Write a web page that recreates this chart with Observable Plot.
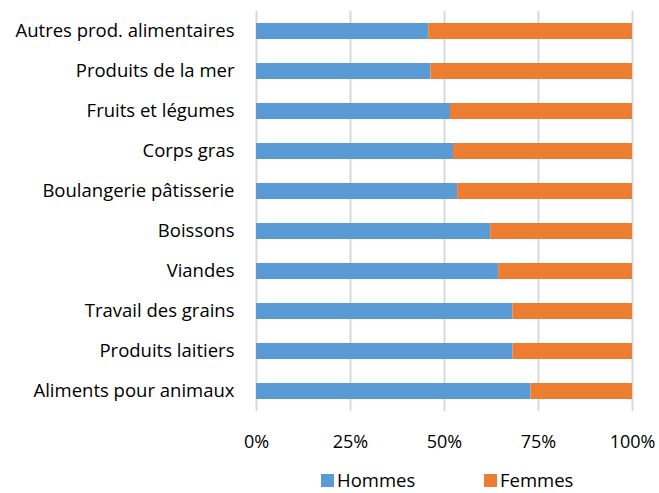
<!DOCTYPE html>
<html>
<head>
<meta charset="utf-8">
<script src="https://cdn.jsdelivr.net/npm/d3@7"></script>
<script src="https://cdn.jsdelivr.net/npm/@observablehq/plot@0.6"></script>
<style>
  html, body { margin: 0; padding: 0; background: #fff; overflow: hidden; }
  #chart { width: 659px; height: 493px; position: relative; font-family: "Open Sans", sans-serif; color: #000; }
  .legend { position: absolute; left: 0; top: 467px; width: 659px; font-size: 18.5px; line-height: normal; }
  .legend .item { position: absolute; top: 0; display: flex; align-items: center; }
  .legend .sw { width: 13px; height: 13px; margin-right: 3px; margin-top: 2px; }
</style>
</head>
<body>
<div id="chart"></div>
<script>
const categories = [
  "Autres prod. alimentaires",
  "Produits de la mer",
  "Fruits et légumes",
  "Corps gras",
  "Boulangerie pâtisserie",
  "Boissons",
  "Viandes",
  "Travail des grains",
  "Produits laitiers",
  "Aliments pour animaux"
];
const seriesNames = ["Hommes", "Femmes"];
const hommes = [45.8, 46.4, 51.6, 52.4, 53.5, 62.3, 64.4, 68.2, 68.2, 73.0];
const femmes = [54.2, 53.6, 48.4, 47.6, 46.5, 37.7, 35.6, 31.8, 31.8, 27.0];
const xTicks = [0, 25, 50, 75, 100];
const colors = ["#5B9BD5", "#ED7D31"];

const rows = [];
categories.forEach((c, i) => rows.push({cat: c, serie: "Hommes", v: hommes[i]}));
categories.forEach((c, i) => rows.push({cat: c, serie: "Femmes", v: femmes[i]}));

const chart = Plot.plot({
  width: 659,
  height: 460,
  marginTop: 11,
  marginBottom: 49,
  marginLeft: 256,
  marginRight: 27,
  style: {fontFamily: "'Open Sans', sans-serif", fontSize: "18px", color: "#000", background: "#fff", overflow: "visible"},
  x: {domain: [0, 100], ticks: xTicks, tickFormat: d => d + "%", tickSize: 0, tickPadding: 24, label: null},
  y: {domain: categories, paddingInner: 0.6, paddingOuter: 0.3, tickSize: 0, tickPadding: 22, label: null},
  color: {domain: seriesNames, range: colors},
  marks: [
    Plot.gridX(xTicks, {stroke: "#d9d9d9", strokeOpacity: 1, strokeWidth: 2}),
    Plot.barX(rows, Plot.stackX({y: "cat", x: "v", fill: "serie", order: null})),
    Plot.axisX({ticks: xTicks, tickFormat: d => d + "%", tickSize: 0, tickPadding: 24, fontSize: 18}),
    Plot.axisY({tickSize: 0, tickPadding: 22, fontSize: 18.5})
  ]
});
document.getElementById("chart").appendChild(chart);

const legend = document.createElement("div");
legend.className = "legend";
const legendX = [321, 484];
seriesNames.forEach((s, i) => {
  const item = document.createElement("div");
  item.className = "item";
  item.style.left = legendX[i] + "px";
  const sw = document.createElement("div");
  sw.className = "sw";
  sw.style.background = colors[i];
  const t = document.createElement("span");
  t.textContent = s;
  item.appendChild(sw);
  item.appendChild(t);
  legend.appendChild(item);
});
document.getElementById("chart").appendChild(legend);
</script>
</body>
</html>
